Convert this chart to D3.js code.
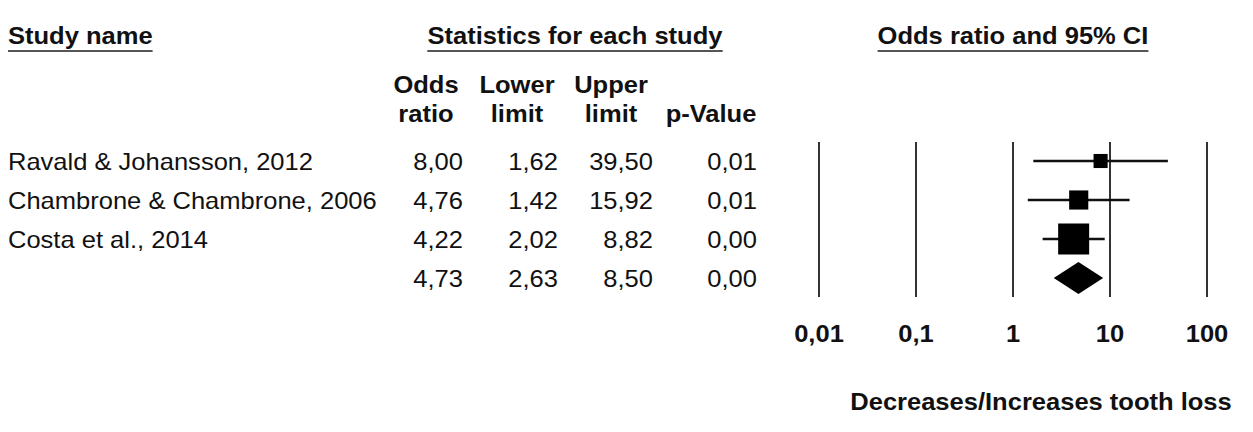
<!DOCTYPE html>
<html><head><meta charset="utf-8">
<script src="https://cdn.jsdelivr.net/npm/d3@7"></script>
<style>body{margin:0;background:#fff}svg{display:block}text{font-family:"Liberation Sans",Arial,Helvetica,sans-serif;fill:#111}</style>
</head><body>
<script>
const studies = ["Ravald & Johansson, 2012", "Chambrone & Chambrone, 2006", "Costa et al., 2014"];
const oddsRatio = [8.00, 4.76, 4.22];
const lowerLimit = [1.62, 1.42, 2.02];
const upperLimit = [39.50, 15.92, 8.82];
const pValue = [0.01, 0.01, 0.00];
const weights = [13, 24, 63];
const summary = {or: 4.73, lower: 2.63, upper: 8.50, p: 0.00};
const tickValues = [0.01, 0.1, 1, 10, 100];
const tickLabels = ["0,01", "0,1", "1", "10", "100"];
const colHeaders = [["Odds", "ratio"], ["Lower", "limit"], ["Upper", "limit"], ["", "p-Value"]];

const W = 1253, H = 432, SX = 1.11, FS = 23;
const svg = d3.select("body").append("svg").attr("width", W).attr("height", H);

const fmt = v => v.toFixed(2).replace(".", ",");

function txt(x, y, s, anchor, bold) {
  return svg.append("text")
    .attr("transform", `translate(${x},${y}) scale(${SX},1)`)
    .attr("text-anchor", anchor || "start")
    .attr("font-size", FS)
    .attr("font-weight", bold ? "bold" : "normal")
    .text(s);
}
function underlined(x, y, s, anchor) {
  const t = txt(x, y, s, anchor, true);
  const bb = t.node().getBBox();
  const w = bb.width * SX;
  let x0 = x;
  if (anchor === "middle") x0 = x - w / 2;
  else if (anchor === "end") x0 = x - w;
  svg.append("line").attr("x1", x0).attr("x2", x0 + w)
    .attr("y1", y + 7).attr("y2", y + 7)
    .attr("stroke", "#555").attr("stroke-width", 2);
}

underlined(8, 44, "Study name", "start");
underlined(575, 44, "Statistics for each study", "middle");
underlined(1013, 44, "Odds ratio and 95% CI", "middle");

// column headers
const colCenters = [426, 517, 611, 711];
const colRight = [463, 558, 653, 757];
colHeaders.forEach((h, i) => {
  if (h[0]) txt(colCenters[i], 93, h[0], "middle", true);
  txt(colCenters[i], 122, h[1], "middle", true);
});

// rows
const rowIdx = d3.range(studies.length + 1);
const y = d3.scalePoint().domain(rowIdx).range([161, 278]);
const x = d3.scaleLog().domain([0.01, 100]).range([819, 1207]);
const size = d3.scaleSqrt().domain([0, d3.max(weights)]).range([0, 31]);

studies.forEach((s, i) => {
  const by = y(i) + 9;
  txt(8, by, s, "start", false);
  [oddsRatio[i], lowerLimit[i], upperLimit[i], pValue[i]].forEach((v, j) => txt(colRight[j], by, fmt(v), "end", false));
});
{
  const by = y(studies.length) + 9;
  [summary.or, summary.lower, summary.upper, summary.p].forEach((v, j) => txt(colRight[j], by, fmt(v), "end", false));
}

// vertical reference lines
svg.append("g").selectAll("line").data(tickValues).join("line")
  .attr("x1", d => x(d)).attr("x2", d => x(d))
  .attr("y1", 142).attr("y2", 297)
  .attr("stroke", "#333").attr("stroke-width", 2);

// CI lines
svg.append("g").selectAll("line").data(studies).join("line")
  .attr("x1", (d, i) => x(lowerLimit[i])).attr("x2", (d, i) => x(upperLimit[i]))
  .attr("y1", (d, i) => y(i)).attr("y2", (d, i) => y(i))
  .attr("stroke", "#111").attr("stroke-width", 2.5);

// squares
svg.append("g").selectAll("rect").data(studies).join("rect")
  .attr("x", (d, i) => x(oddsRatio[i]) - size(weights[i]) / 2)
  .attr("y", (d, i) => y(i) - size(weights[i]) / 2)
  .attr("width", (d, i) => size(weights[i]))
  .attr("height", (d, i) => size(weights[i]))
  .attr("fill", "#000");

// diamond
{
  const cy = y(studies.length), hh = 16;
  svg.append("path")
    .attr("d", `M${x(summary.lower)},${cy} L${x(summary.or)},${cy - hh} L${x(summary.upper)},${cy} L${x(summary.or)},${cy + hh} Z`)
    .attr("fill", "#000");
}

// tick labels
tickValues.forEach((v, i) => txt(x(v), 342, tickLabels[i], "middle", true));
txt(1041, 410, "Decreases/Increases tooth loss", "middle", true);
</script>
</body></html>
